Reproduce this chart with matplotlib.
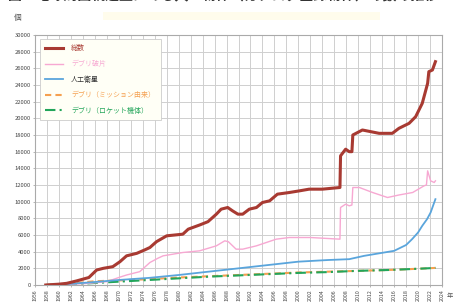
import matplotlib
matplotlib.use("Agg")
import matplotlib.pyplot as plt
from matplotlib.patches import Rectangle

plt.rcParams['font.family'] = ['Noto Sans CJK JP', 'DejaVu Sans']

# ---- data ----
total_years = [1957.8, 1960, 1961.3, 1963, 1965, 1966.3, 1967.4, 1969, 1970.2, 1971.3, 1973, 1974.3,
               1975.2, 1976.3, 1978, 1980.7, 1981.6, 1983.5, 1984.9, 1986.3, 1987.1, 1988.2, 1989,
               1989.9, 1990.7, 1991.8, 1993, 1994, 1995.2, 1996.5, 1998.5, 2000.2, 2001.8, 2004,
               2006.95, 2007.05, 2007.9, 2008.5, 2008.95, 2009.1, 2010.7, 2013.5, 2015.7, 2016.8,
               2018.5, 2019.6, 2020.7, 2021.6, 2021.8, 2022.4, 2022.9]
total_vals = [0, 100, 200, 500, 900, 1800, 2000, 2200, 2800, 3500, 3800, 4200,
              4500, 5200, 5900, 6100, 6700, 7200, 7600, 8500, 9100, 9300, 8900,
              8500, 8500, 9100, 9300, 9900, 10100, 10900, 11100, 11300, 11500, 11500,
              11700, 15500, 16300, 16000, 16000, 18000, 18600, 18200, 18200, 18800,
              19400, 20200, 21800, 24200, 25600, 25800, 26800]

frag_years = [1957.8, 1961, 1965, 1968, 1970, 1971.3, 1973.5, 1975.2, 1976.5, 1977.4, 1980.7,
              1983.5, 1986.3, 1987.7, 1988.3, 1989.6, 1990.7, 1993, 1996.3, 1998.5, 2002,
              2006.95, 2007.05, 2007.9, 2008.5, 2008.95, 2009.1, 2010.2, 2012.4, 2014.9, 2016.8,
              2019.1, 2021, 2021.4, 2021.6, 2022.1, 2022.7, 2022.9]
frag_vals = [0, 50, 200, 400, 900, 1200, 1600, 2700, 3200, 3500, 3900,
             4100, 4700, 5300, 5200, 4300, 4300, 4700, 5500, 5700, 5700,
             5500, 9300, 9700, 9500, 9600, 11700, 11700, 11100, 10500, 10800,
             11100, 11900, 12000, 13700, 12500, 12300, 12500]

sat_years = [1957.8, 1960, 1965, 1970, 1975, 1980, 1985, 1990, 1995, 2000, 2005, 2008.5,
             2011, 2016, 2018, 2019, 2020, 2020.7, 2021.5, 2022.1, 2022.5, 2022.9]
sat_vals = [0, 50, 300, 600, 850, 1200, 1600, 2000, 2400, 2800, 3000, 3100,
            3500, 4100, 4800, 5500, 6300, 7100, 7900, 8700, 9500, 10300]

mission_years = [1957.8, 1960, 1963, 1966, 1970, 1975, 1980, 1985, 1990, 1995, 2000, 2005,
                 2010, 2015, 2020, 2022.9]
mission_vals = [0, 100, 250, 450, 550, 700, 900, 1050, 1200, 1350, 1500, 1600,
                1700, 1800, 1950, 2050]

rocket_years = [1957.8, 1960, 1965, 1970, 1975, 1980, 1985, 1990, 1995, 2000, 2005,
                2010, 2015, 2020, 2022.9]
rocket_vals = [0, 50, 200, 400, 600, 800, 1000, 1150, 1300, 1450, 1550,
               1700, 1800, 1950, 2050]

labels = ['総数', 'デブリ破片', '人工衛星', 'デブリ（ミッション由来）', 'デブリ（ロケット機体）']
x_ticks = list(range(1956, 2025, 2))
y_ticks = list(range(0, 30001, 2000))

# ---- figure ----
W, H = 456, 304
fig = plt.figure(figsize=(W / 100, H / 100), dpi=100)
fig.patch.set_facecolor('white')

# faint highlight band and cut-off title
fig.patches.append(Rectangle((103 / W, 1 - 20 / H), (380 - 103) / W, 8 / H,
                             transform=fig.transFigure, facecolor='#fffcec',
                             edgecolor='none', zorder=0))
fig.text(0.49, 1.016, '図　地球周回軌道上にある人工物体（カタログ登録物体）の数の推移',
         ha='center', va='center', fontsize=10, color='#333333', fontweight='bold')

L, R, T, B = 35, 442, 35, 285
ax = fig.add_axes([L / W, 1 - B / H, (R - L) / W, (B - T) / H])

c_total = '#a83a32'
c_frag = '#f7a8d2'
c_sat = '#5aa5dc'
c_mis = '#f5a050'
c_rb = '#22a55a'

ax.plot(total_years, total_vals, color=c_total, lw=2.2, label=labels[0], zorder=5)
ax.plot(frag_years, frag_vals, color=c_frag, lw=1.0, label=labels[1], zorder=4)
ax.plot(sat_years, sat_vals, color=c_sat, lw=1.3, label=labels[2], zorder=4)
ax.plot(mission_years, mission_vals, color=c_mis, lw=1.5, ls=(0, (3, 2)), label=labels[3], zorder=3)
ax.plot(rocket_years, rocket_vals, color=c_rb, lw=1.5, ls=(0, (5, 2, 1, 2)), label=labels[4], zorder=3)

ax.set_xlim(1956, 2024)
ax.set_ylim(0, 30000)
ax.set_xticks(x_ticks)
ax.set_xticklabels([str(y) for y in x_ticks], rotation=90, fontsize=3.8, color='#444444')
ax.set_yticks(y_ticks)
ax.set_yticklabels([str(v) for v in y_ticks], fontsize=4.2, color='#444444')
ax.tick_params(axis='both', length=1.5, width=0.5, color='#999999', pad=1.5)
ax.grid(True, color='#cfcfcf', lw=0.7)
ax.set_axisbelow(True)
for s in ax.spines.values():
    s.set_color('#aaaaaa')
    s.set_linewidth(0.8)

leg = ax.legend(loc='upper left', bbox_to_anchor=(0.012, 0.985), fontsize=5,
                labelcolor=[c_total, c_frag, '#333333', c_mis, c_rb],
                frameon=True, fancybox=False, framealpha=1, edgecolor='#cccccc',
                facecolor='#fffff6', handlelength=2.6, labelspacing=1.1,
                borderpad=0.8, handletextpad=1.1, borderaxespad=0)
leg.get_frame().set_linewidth(0.6)

fig.text(18 / W, 1 - 18 / H, '個', fontsize=5.5, color='#555555', ha='center', va='center')
fig.text(450 / W, 1 - 296 / H, '年', fontsize=4.5, color='#555555', ha='center', va='center')

fig.savefig('out.png', dpi=100)
